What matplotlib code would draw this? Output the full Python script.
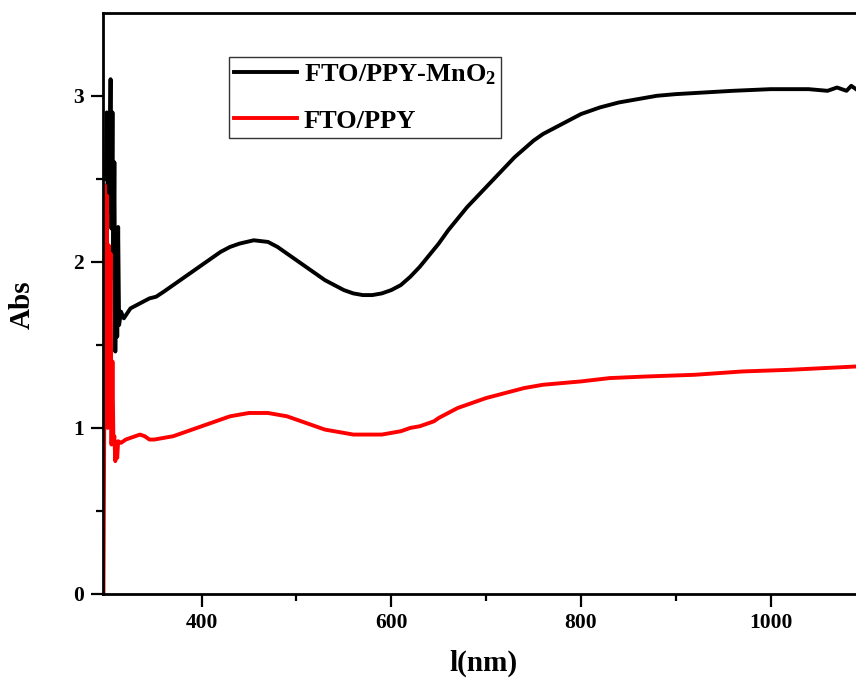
import matplotlib
matplotlib.use("Agg")
import matplotlib.pyplot as plt
from matplotlib.ticker import FixedLocator

plt.rcParams['font.family'] = ['Liberation Serif', 'DejaVu Serif']
plt.rcParams['font.weight'] = 'bold'
plt.rcParams['mathtext.default'] = 'regular'

# FTO/PPY-MnO2 (black)
wl_mno2 = [299, 300, 301, 302, 303, 304, 305, 306, 307, 308, 309, 310, 311, 312, 313,
           315, 318, 325, 335, 345, 352, 360, 370, 380, 390, 400, 410, 420, 430, 440,
           455, 470, 480, 490, 500, 510, 520, 530, 540, 550, 560, 570, 580, 590, 600,
           610, 620, 630, 640, 650, 660, 670, 680, 690, 700, 710, 720, 730, 740, 750,
           760, 770, 780, 790, 800, 820, 840, 860, 880, 900, 930, 960, 1000, 1040,
           1060, 1070, 1080, 1085, 1090]
abs_mno2 = [2.5, 2.9, 2.3, 2.75, 2.6, 3.1, 2.2, 2.9, 1.9, 2.6, 1.46, 2.2, 1.55, 2.21, 1.62,
            1.7, 1.66, 1.72, 1.75, 1.78, 1.79, 1.82, 1.86, 1.9, 1.94, 1.98, 2.02, 2.06, 2.09, 2.11,
            2.13, 2.12, 2.09, 2.05, 2.01, 1.97, 1.93, 1.89, 1.86, 1.83, 1.81, 1.80, 1.80, 1.81, 1.83,
            1.86, 1.91, 1.97, 2.04, 2.11, 2.19, 2.26, 2.33, 2.39, 2.45, 2.51, 2.57, 2.63, 2.68, 2.73,
            2.77, 2.80, 2.83, 2.86, 2.89, 2.93, 2.96, 2.98, 3.00, 3.01, 3.02, 3.03, 3.04, 3.04,
            3.03, 3.05, 3.03, 3.06, 3.04]

# FTO/PPY (red)
wl_ppy = [296.5, 297.5, 298, 299, 300, 301, 302, 303, 304, 305, 306, 307, 308, 309, 310,
          311, 312, 315, 320, 330, 335, 340, 345, 350, 360, 370, 380, 390, 400, 410,
          420, 430, 440, 450, 470, 480, 490, 500, 510, 520, 530, 540, 550, 560, 570,
          580, 590, 600, 610, 620, 630, 640, 645, 650, 660, 670, 680, 690, 700, 720,
          740, 760, 780, 800, 830, 870, 920, 970, 1020, 1090]
abs_ppy = [0.0, 1.2, 2.46, 1.6, 2.4, 1.0, 2.1, 1.3, 2.05, 0.9, 1.4, 0.92, 0.95, 0.80, 0.88,
           0.82, 0.92, 0.91, 0.93, 0.95, 0.96, 0.95, 0.93, 0.93, 0.94, 0.95, 0.97, 0.99, 1.01, 1.03,
           1.05, 1.07, 1.08, 1.09, 1.09, 1.08, 1.07, 1.05, 1.03, 1.01, 0.99, 0.98, 0.97, 0.96, 0.96,
           0.96, 0.96, 0.97, 0.98, 1.00, 1.01, 1.03, 1.04, 1.06, 1.09, 1.12, 1.14, 1.16, 1.18, 1.21,
           1.24, 1.26, 1.27, 1.28, 1.30, 1.31, 1.32, 1.34, 1.35, 1.37]

fig = plt.figure(figsize=(8.56, 6.79), dpi=100)
ax = fig.add_axes([0.1203, 0.1252, 0.8797, 0.856])

ax.plot(wl_mno2, abs_mno2, color='black', lw=2.8, label='FTO/PPY-MnO$_2$')
ax.plot(wl_ppy, abs_ppy, color='red', lw=2.8, label='FTO/PPY')

ax.set_xlim(296, 1090)
ax.set_ylim(0, 3.5)
ax.set_xticks([400, 600, 800, 1000])
ax.set_yticks([0, 1, 2, 3])
ax.xaxis.set_minor_locator(FixedLocator([500, 700, 900]))
ax.yaxis.set_minor_locator(FixedLocator([0.5, 1.5, 2.5]))
ax.tick_params(which='major', direction='out', length=9, width=1.6, labelsize=15.5, pad=5)
ax.tick_params(which='minor', direction='out', length=5, width=1.6)
ax.spines['right'].set_visible(False)
for s in ['left', 'bottom', 'top']:
    ax.spines[s].set_linewidth(2)

ax.set_xlabel('l(nm)', fontsize=21, fontweight='bold')
ax.set_ylabel('Abs', fontsize=21, fontweight='bold')
ax.xaxis.set_label_coords(0.505, -0.119)
ax.yaxis.set_label_coords(-0.107, 0.497)
ax.xaxis.label.set_va('center')
ax.yaxis.label.set_va('center')

leg = ax.legend(loc='upper left', bbox_to_anchor=(0.167, 0.924), borderaxespad=0,
                fontsize=19, handlelength=2.4, handletextpad=0.25, labelspacing=0.85,
                fancybox=False, framealpha=1, edgecolor='#333333', borderpad=0.2)
leg.get_frame().set_linewidth(1.0)

fig.savefig('out.png', dpi=100)
